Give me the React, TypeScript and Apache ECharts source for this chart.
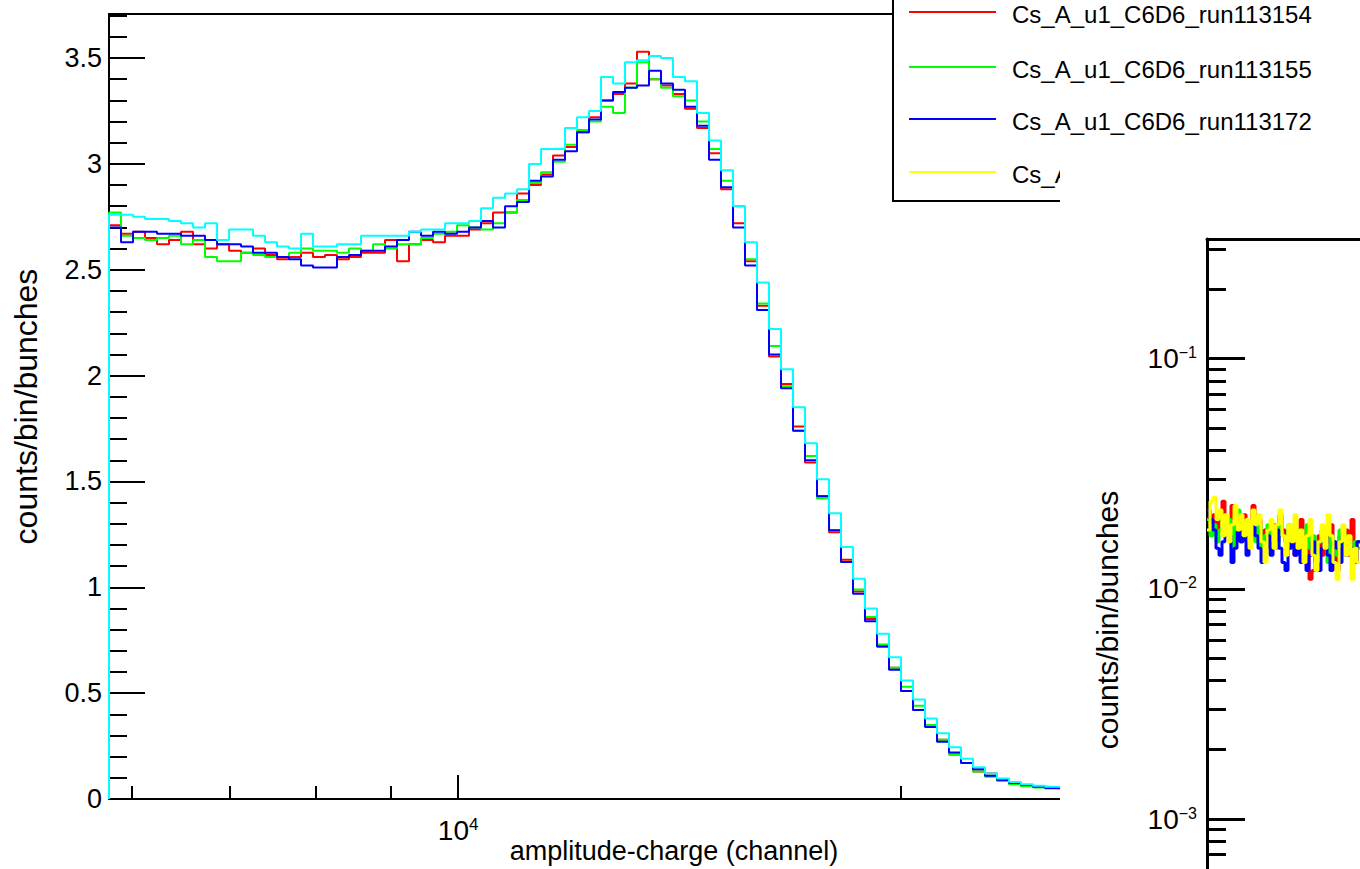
import React, { useEffect, useRef } from "react";
import * as echarts from "echarts";

const FONT = "'Liberation Sans', Arial, Helvetica, sans-serif";

// ---- main panel (linear y, log x) ----
const binEdges = [
  5790, 5900, 6012, 6126, 6242, 6360, 6481, 6604, 6729, 6857,
  6987, 7119, 7254, 7392, 7532, 7675, 7820, 7968, 8119, 8273,
  8430, 8590, 8753, 8919, 9088, 9260, 9436, 9615, 9797, 9983,
  10172, 10365, 10561, 10762, 10966, 11174, 11385, 11601, 11821, 12045,
  12274, 12506, 12744, 12985, 13231, 13482, 13738, 13998, 14264, 14534,
  14810, 15090, 15377, 15668, 15965, 16268, 16576, 16891, 17211, 17537,
  17870, 18208, 18554, 18905, 19264, 19629, 20001, 20381, 20767, 21161,
  21562, 21971, 22387, 22811, 23244, 23685, 24134, 24591, 25058, 25533,
  26017,
];

const run113154 = [
  2.71, 2.67, 2.68, 2.65, 2.62, 2.64, 2.68, 2.62, 2.60, 2.62,
  2.59, 2.58, 2.60, 2.57, 2.55, 2.56, 2.58, 2.56, 2.57, 2.55,
  2.56, 2.58, 2.58, 2.64, 2.54, 2.62, 2.64, 2.63, 2.66, 2.66,
  2.69, 2.72, 2.77, 2.77, 2.86, 2.90, 2.95, 3.04, 3.08, 3.15,
  3.22, 3.30, 3.33, 3.38, 3.53, 3.40, 3.37, 3.33, 3.26, 3.17,
  3.05, 2.88, 2.72, 2.54, 2.33, 2.09, 1.96, 1.76, 1.59, 1.43,
  1.26, 1.13, 0.98, 0.85, 0.72, 0.62, 0.51, 0.42, 0.35, 0.28,
  0.21, 0.17, 0.13, 0.12, 0.095, 0.075, 0.064, 0.058, 0.055, 0.052,
];

const run113155 = [
  2.77, 2.66, 2.65, 2.64, 2.65, 2.66, 2.62, 2.64, 2.56, 2.54,
  2.54, 2.58, 2.57, 2.56, 2.56, 2.58, 2.60, 2.59, 2.59, 2.58,
  2.60, 2.59, 2.62, 2.60, 2.62, 2.62, 2.65, 2.67, 2.68, 2.71,
  2.70, 2.69, 2.72, 2.77, 2.83, 2.91, 2.96, 3.01, 3.09, 3.16,
  3.20, 3.27, 3.24, 3.36, 3.48, 3.40, 3.36, 3.32, 3.30, 3.20,
  3.07, 2.92, 2.80, 2.55, 2.34, 2.14, 1.95, 1.74, 1.62, 1.42,
  1.27, 1.12, 0.99, 0.86, 0.73, 0.62, 0.53, 0.44, 0.35, 0.28,
  0.21, 0.17, 0.13, 0.105, 0.085, 0.07, 0.06, 0.054, 0.05, 0.048,
];

const run113172 = [
  2.70, 2.63, 2.68, 2.68, 2.67, 2.67, 2.66, 2.66, 2.64, 2.62,
  2.62, 2.61, 2.58, 2.58, 2.56, 2.55, 2.52, 2.51, 2.51, 2.56,
  2.57, 2.59, 2.59, 2.61, 2.64, 2.68, 2.66, 2.68, 2.67, 2.68,
  2.70, 2.73, 2.70, 2.80, 2.82, 2.92, 2.94, 3.02, 3.06, 3.15,
  3.21, 3.30, 3.34, 3.36, 3.37, 3.44, 3.38, 3.35, 3.27, 3.18,
  3.02, 2.89, 2.70, 2.52, 2.31, 2.10, 1.94, 1.74, 1.60, 1.43,
  1.27, 1.12, 0.97, 0.84, 0.72, 0.61, 0.51, 0.42, 0.34, 0.27,
  0.22, 0.17, 0.14, 0.11, 0.09, 0.075, 0.066, 0.058, 0.052, 0.05,
];

const runCyan = [
  2.76, 2.76, 2.75, 2.74, 2.74, 2.73, 2.72, 2.70, 2.72, 2.64,
  2.69, 2.69, 2.66, 2.63, 2.61, 2.60, 2.67, 2.61, 2.61, 2.62,
  2.62, 2.66, 2.66, 2.66, 2.66, 2.68, 2.69, 2.69, 2.72, 2.72,
  2.73, 2.79, 2.84, 2.86, 2.88, 3.00, 3.07, 3.07, 3.17, 3.22,
  3.25, 3.41, 3.38, 3.48, 3.49, 3.51, 3.50, 3.41, 3.39, 3.24,
  3.11, 2.97, 2.80, 2.63, 2.44, 2.22, 2.03, 1.85, 1.68, 1.51,
  1.35, 1.19, 1.04, 0.90, 0.78, 0.67, 0.56, 0.47, 0.38, 0.31,
  0.245, 0.19, 0.15, 0.12, 0.097, 0.08, 0.07, 0.063, 0.058, 0.055,
];

const yMajorTicks = [0, 0.5, 1, 1.5, 2, 2.5, 3, 3.5];
const yMinorTicks = [
  0.1, 0.2, 0.3, 0.4, 0.6, 0.7, 0.8, 0.9, 1.1, 1.2, 1.3, 1.4, 1.6, 1.7, 1.8, 1.9,
  2.1, 2.2, 2.3, 2.4, 2.6, 2.7, 2.8, 2.9, 3.1, 3.2, 3.3, 3.4, 3.6, 3.7,
];
const xMajorTicks = [10000];
const xMinorTicks = [6000, 7000, 8000, 9000, 20000];

const legendNames = [
  "Cs_A_u1_C6D6_run113154",
  "Cs_A_u1_C6D6_run113155",
  "Cs_A_u1_C6D6_run113172",
  "Cs_A",
];
const legendColors = ["#ff0000", "#00ff00", "#0000ff", "#ffff00"];

// ---- right panel (log y), partially visible ----
const rRed = [
  0.020, 0.019, 0.021, 0.018, 0.020, 0.024, 0.019, 0.017, 0.023, 0.020,
  0.018, 0.016, 0.021, 0.019, 0.017, 0.023, 0.018, 0.020, 0.016, 0.018,
  0.015, 0.017, 0.019, 0.016, 0.021, 0.018, 0.016, 0.015, 0.018, 0.014,
  0.017, 0.020, 0.016, 0.018, 0.011, 0.012, 0.015, 0.017, 0.014, 0.018,
  0.016, 0.019, 0.015, 0.012, 0.017, 0.016, 0.018, 0.014, 0.020, 0.013,
  0.016,
];
const rGreen = [
  0.020, 0.017, 0.019, 0.016, 0.018, 0.021, 0.018, 0.020, 0.015, 0.019,
  0.022, 0.017, 0.019, 0.016, 0.018, 0.020, 0.016, 0.019, 0.015, 0.017,
  0.019, 0.016, 0.018, 0.015, 0.020, 0.017, 0.016, 0.019, 0.015, 0.017,
  0.018, 0.014, 0.016, 0.019, 0.015, 0.017, 0.014, 0.016, 0.018, 0.015,
  0.013, 0.017, 0.016, 0.014, 0.018, 0.015, 0.017, 0.016, 0.014, 0.016,
  0.015,
];
const rBlue = [
  0.022, 0.020, 0.018, 0.015, 0.014, 0.016, 0.019, 0.017, 0.013, 0.015,
  0.019, 0.016, 0.018, 0.014, 0.016, 0.020, 0.017, 0.015, 0.013, 0.015,
  0.017, 0.014, 0.016, 0.018, 0.015, 0.013, 0.012, 0.015, 0.017, 0.014,
  0.016, 0.013, 0.015, 0.012, 0.014, 0.016, 0.013, 0.012, 0.015, 0.017,
  0.014, 0.012, 0.016, 0.015, 0.013, 0.017, 0.014, 0.016, 0.015, 0.013,
  0.016,
];
const rYellow = [
  0.018, 0.024, 0.025, 0.020, 0.022, 0.017, 0.021, 0.016, 0.019, 0.023,
  0.018, 0.021, 0.017, 0.020, 0.015, 0.022, 0.019, 0.021, 0.016, 0.013,
  0.018, 0.020, 0.015, 0.019, 0.022, 0.017, 0.014, 0.019, 0.016, 0.021,
  0.015, 0.018, 0.013, 0.017, 0.020, 0.014, 0.012, 0.016, 0.019, 0.015,
  0.021, 0.017, 0.013, 0.011, 0.016, 0.019, 0.014, 0.017, 0.011, 0.015,
  0.013,
];
const logMajorTicks = [0.1, 0.01, 0.001];
const logMinorTicks = [
  0.3, 0.2, 0.09, 0.08, 0.07, 0.06, 0.05, 0.04, 0.03, 0.02,
  0.009, 0.008, 0.007, 0.006, 0.005, 0.004, 0.003, 0.002,
  0.0009, 0.0008, 0.0007, 0.0006, 0.0005, 0.0004, 0.0003, 0.0002,
];

function histPoints(edges: number[], values: number[], baseline?: number) {
  const pts: number[][] = [];
  if (baseline !== undefined) pts.push([edges[0], baseline]);
  values.forEach((v, i) => pts.push([edges[i], v]));
  pts.push([edges[values.length], values[values.length - 1]]);
  return pts;
}

function buildOption() {
  const black = { color: "#000", width: 2 };
  const black3 = { color: "#000", width: 3 };
  const rightEdges = rRed.map((_, i) => i).concat([rRed.length]);

  const mainSeries = [
    { name: legendNames[0], data: run113154, color: "#ff0000" },
    { name: legendNames[1], data: run113155, color: "#00ff00" },
    { name: legendNames[2], data: run113172, color: "#0000ff" },
    { name: "cyan", data: runCyan, color: "#00ffff" },
  ].map((s) => ({
    type: "line",
    name: s.name,
    xAxisIndex: 0,
    yAxisIndex: 0,
    step: "end",
    symbol: "none",
    showSymbol: false,
    silent: true,
    clip: false,
    z: 2,
    lineStyle: { color: s.color, width: 2 },
    itemStyle: { color: s.color },
    data: histPoints(binEdges, s.data, 0),
  }));

  const rightSeries = [
    { data: rRed, color: "#ff0000" },
    { data: rGreen, color: "#00ff00" },
    { data: rBlue, color: "#0000ff" },
    { data: rYellow, color: "#ffff00" },
  ].map((s) => ({
    type: "line",
    xAxisIndex: 3,
    yAxisIndex: 2,
    step: "end",
    symbol: "none",
    showSymbol: false,
    silent: true,
    clip: true,
    z: 31,
    lineStyle: { color: s.color, width: 3 },
    itemStyle: { color: s.color },
    data: histPoints(rightEdges, s.data),
  }));

  const legendGraphics: any[] = [
    {
      type: "rect",
      z: 10,
      shape: { x: 893, y: -20, width: 600, height: 221 },
      style: { fill: "#fff", stroke: "#000", lineWidth: 2 },
    },
  ];
  const rowY = [12, 67, 119, 172];
  legendNames.forEach((n, i) => {
    legendGraphics.push({
      type: "line",
      z: 11,
      shape: { x1: 909, y1: rowY[i], x2: 996, y2: rowY[i] },
      style: { stroke: legendColors[i], lineWidth: 2 },
    });
    legendGraphics.push({
      type: "text",
      z: 11,
      x: 1012,
      y: rowY[i] + 2,
      style: {
        text: n,
        fontSize: 24,
        fontFamily: FONT,
        fill: "#000",
        verticalAlign: "middle",
        align: "left",
      },
    });
  });
  // the right-hand canvas (white) overlaps the main one from here on
  legendGraphics.push({
    type: "rect",
    z: 20,
    shape: { x: 1060, y: 148, width: 300, height: 721 },
    style: { fill: "#fff" },
  });

  return {
    animation: false,
    backgroundColor: "#fff",
    grid: [
      { left: 109, top: 14, width: 960, height: 785, containLabel: false, outerBoundsMode: "none" },
      { left: 1207, top: 239, width: 153, height: 762, containLabel: false, outerBoundsMode: "none" },
    ],
    xAxis: [
      {
        gridIndex: 0,
        type: "log",
        logBase: 10,
        position: "bottom",
        min: binEdges[0],
        max: binEdges[binEdges.length - 1],
        axisLine: { show: true, onZero: false, lineStyle: black },
        axisTick: { show: true, inside: true, length: 24, customValues: xMajorTicks, lineStyle: black },
        axisLabel: {
          show: true,
          customValues: xMajorTicks,
          margin: 17,
          formatter: (v: number) => "{b|10}{s|" + Math.round(Math.log10(v)) + "}",
          rich: {
            b: { fontSize: 28, fontFamily: FONT, color: "#000", lineHeight: 28 },
            s: { fontSize: 17, fontFamily: FONT, color: "#000", verticalAlign: "top", lineHeight: 17 },
          },
        },
        splitLine: { show: false },
        minorTick: { show: false },
        name: "amplitude-charge (channel)",
        nameLocation: "middle",
        nameGap: 38,
        nameMoveOverlap: false,
        nameTextStyle: { fontSize: 27, fontFamily: FONT, color: "#000", padding: [0, 0, 0, 170] },
      },
      {
        gridIndex: 0,
        type: "log",
        logBase: 10,
        position: "bottom",
        min: binEdges[0],
        max: binEdges[binEdges.length - 1],
        axisLine: { show: false, onZero: false },
        axisTick: { show: true, inside: true, length: 13, customValues: xMinorTicks, lineStyle: black },
        axisLabel: { show: false },
        splitLine: { show: false },
      },
      {
        gridIndex: 0,
        type: "log",
        logBase: 10,
        position: "top",
        min: binEdges[0],
        max: binEdges[binEdges.length - 1],
        axisLine: { show: true, onZero: false, lineStyle: black },
        axisTick: { show: false },
        axisLabel: { show: false },
        splitLine: { show: false },
      },
      {
        gridIndex: 1,
        type: "value",
        position: "bottom",
        min: 0,
        max: rRed.length,
        show: false,
        z: 30,
      },
      {
        gridIndex: 1,
        type: "value",
        position: "top",
        min: 0,
        max: rRed.length,
        z: 30,
        axisLine: { show: true, onZero: false, lineStyle: black3 },
        axisTick: { show: false },
        axisLabel: { show: false },
        splitLine: { show: false },
      },
    ],
    yAxis: [
      {
        gridIndex: 0,
        type: "value",
        position: "left",
        min: 0,
        max: 3.708,
        axisLine: { show: true, onZero: false, lineStyle: black },
        axisTick: { show: true, inside: true, length: 36, customValues: yMajorTicks, lineStyle: black },
        axisLabel: {
          show: true,
          customValues: yMajorTicks,
          margin: 7,
          fontSize: 27,
          fontFamily: FONT,
          color: "#000",
        },
        splitLine: { show: false },
        name: "counts/bin/bunches",
        nameLocation: "middle",
        nameRotate: 90,
        nameGap: 67,
        nameMoveOverlap: false,
        nameTextStyle: { fontSize: 32, fontFamily: FONT, color: "#000" },
      },
      {
        gridIndex: 0,
        type: "value",
        position: "left",
        min: 0,
        max: 3.708,
        axisLine: { show: false, onZero: false },
        axisTick: { show: true, inside: true, length: 18, customValues: yMinorTicks, lineStyle: black },
        axisLabel: { show: false },
        splitLine: { show: false },
      },
      {
        gridIndex: 1,
        type: "log",
        logBase: 10,
        position: "left",
        min: 0.000162,
        max: 0.3308,
        z: 30,
        axisLine: { show: true, onZero: false, lineStyle: black3 },
        axisTick: { show: true, inside: true, length: 38, customValues: logMajorTicks, lineStyle: black3 },
        axisLabel: {
          show: true,
          customValues: logMajorTicks,
          margin: 10,
          formatter: (v: number) => "{b|10}{s|\u2212" + Math.round(-Math.log10(v)) + "}",
          rich: {
            b: { fontSize: 28, fontFamily: FONT, color: "#000", lineHeight: 28 },
            s: { fontSize: 16, fontFamily: FONT, color: "#000", verticalAlign: "top", lineHeight: 16 },
          },
        },
        splitLine: { show: false },
        name: "counts/bin/bunches",
        nameLocation: "middle",
        nameRotate: 90,
        nameGap: 85,
        nameMoveOverlap: false,
        nameTextStyle: { fontSize: 30, fontFamily: FONT, color: "#000" },
      },
      {
        gridIndex: 1,
        type: "log",
        logBase: 10,
        position: "left",
        min: 0.000162,
        max: 0.3308,
        z: 30,
        axisLine: { show: false, onZero: false },
        axisTick: { show: true, inside: true, length: 19, customValues: logMinorTicks, lineStyle: black3 },
        axisLabel: { show: false },
        splitLine: { show: false },
      },
    ],
    graphic: { elements: legendGraphics },
    series: [...mainSeries, ...rightSeries],
  };
}

export default function App() {
  const ref = useRef<HTMLDivElement>(null);
  useEffect(() => {
    if (!ref.current) return;
    const chart = echarts.init(ref.current, null, { renderer: "svg" });
    chart.setOption(buildOption() as any);
    return () => chart.dispose();
  }, []);
  return (
    <div
      ref={ref}
      style={{ position: "absolute", left: 0, top: 0, width: 1360, height: 869, background: "#fff" }}
    />
  );
}
